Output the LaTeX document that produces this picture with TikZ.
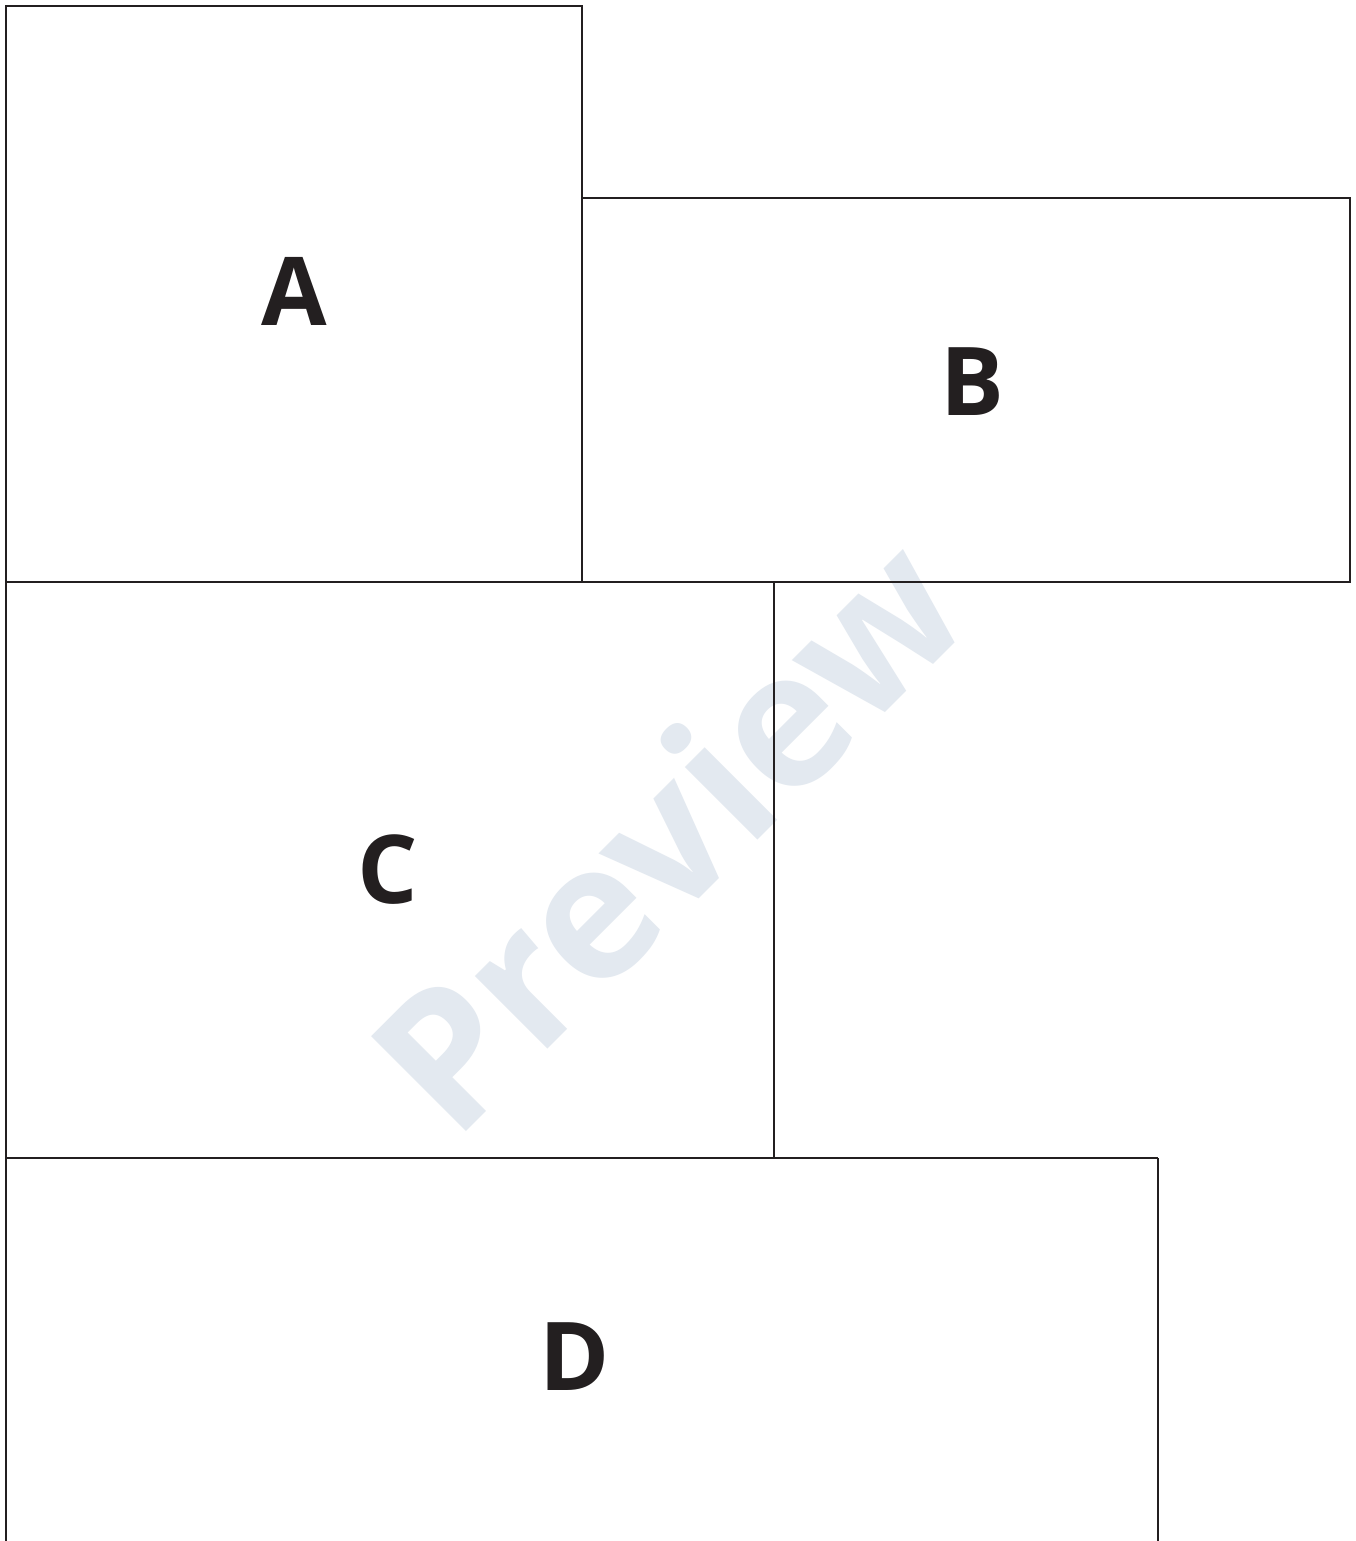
\documentclass[tikz,border=0pt]{standalone}
\usepackage{fontspec}
\setmainfont{Open Sans}
\definecolor{wmark}{HTML}{E3E9F0}
\definecolor{ink}{HTML}{231F20}
\begin{document}
\begin{tikzpicture}[x=1pt,y=-1pt,
  box/.style={draw=ink, line width=2.6pt},
  lab/.style={font=\fontsize{95}{95}\selectfont\bfseries, text=ink, inner sep=0pt}]
\useasboundingbox (0,0) rectangle (1355,1541);
\clip (0,0) rectangle (1355,1541);
\fill[white] (0,0) rectangle (1355,1541);
\node[rotate=45, text=wmark, font=\fontsize{188}{188}\selectfont\bfseries, inner sep=0pt] (wm) at (666,832) {Preview};
\draw[box] (6,6) rectangle (582,582);
\draw[box] (582,198) rectangle (1350,582);
\draw[box] (6,582) rectangle (774,1158);
\draw[box] (6,1158) -- (1158,1158);
\draw[box] (6,1158) -- (6,1600);
\draw[box] (1158,1158) -- (1158,1600);
\node[lab] (a) at (294,291) {A};
\node[lab] (b) at (972,382) {B};
\node[lab] (c) at (388,870) {C};
\node[lab] (d) at (575,1357) {D};
\end{tikzpicture}
\end{document}
